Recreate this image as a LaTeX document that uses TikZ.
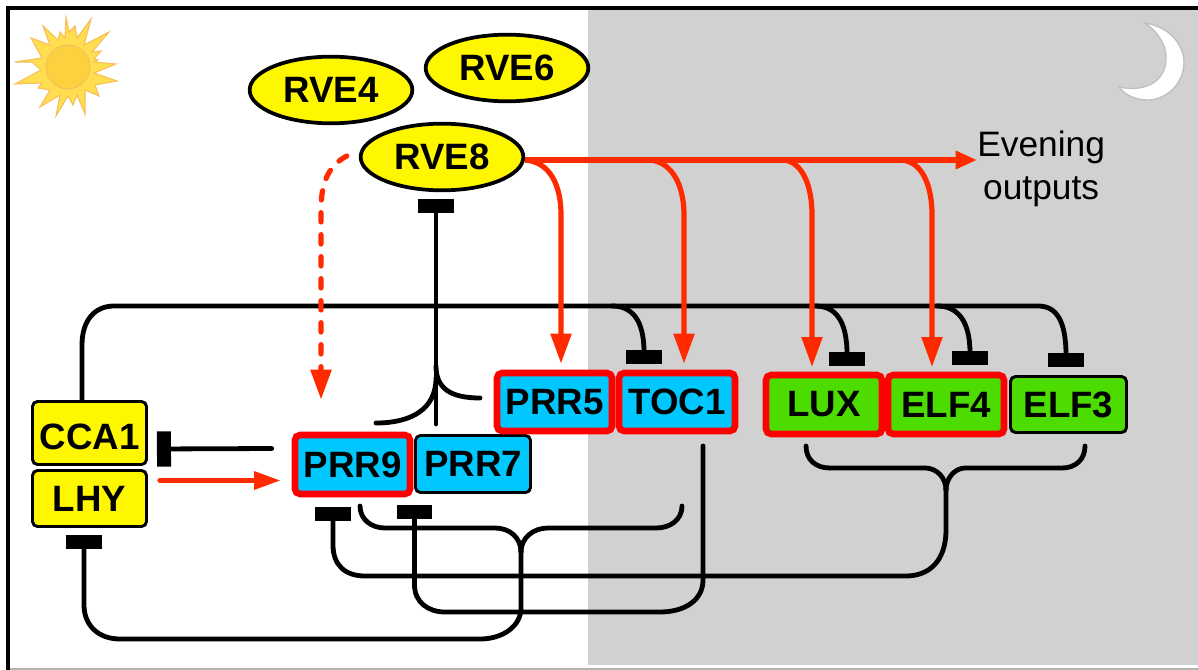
\documentclass[tikz,border=0pt]{standalone}
\usepackage{fontspec}
\setmainfont{Liberation Sans}
\usetikzlibrary{arrows.meta, positioning, calc, shapes.geometric}

\begin{document}
\begin{tikzpicture}[
    x=0.75pt, y=-0.75pt,
    every node/.style={font=\fontsize{26.5}{32}\selectfont},
    gene/.style={rectangle, rounded corners=3.75pt, draw=black, line width=2.2pt,
      inner sep=0pt, font=\fontsize{27.5}{32}\selectfont\bfseries},
    redgene/.style={gene, draw=geneRed, line width=4.9pt},
    rve/.style={ellipse, draw=black, fill=clockYellow, line width=2.8pt, inner sep=0pt,
      minimum width=122pt, minimum height=50pt, font=\fontsize{27.5}{32}\selectfont\bfseries},
    repress/.style={black, line width=3.6pt, line cap=round},
    bar/.style={repress, -{Rectangle[length=10.5pt, width=26.5pt]}},
    activate/.style={arrowRed, line width=3.9pt,
      -{Triangle[length=22.5pt, width=15pt]}},
  ]
  \definecolor{clockYellow}{HTML}{FFF700}
  \definecolor{prrBlue}{HTML}{00C8FF}
  \definecolor{eveGreen}{HTML}{4CDC00}
  \definecolor{geneRed}{HTML}{FF0000}
  \definecolor{arrowRed}{HTML}{FF2A00}
  \definecolor{night}{HTML}{D1D1D1}
  \definecolor{sunRay}{HTML}{FFDF50}
  \definecolor{sunEdge}{HTML}{F8BE58}
  \definecolor{sunCore}{HTML}{FBD140}

  \useasboundingbox (0,0) rectangle (1198,670);

  % day and night panels
  \fill[night] (588,10) rectangle (1198,665);
  \draw[black!30, line width=1.5pt] (8,668.5) -- (1198,668.5);
  \draw[black, line width=3pt] (8,670) -- (8,8) -- (1198,8);

  % sun and moon
  \draw[sunEdge, fill=sunRay, line width=0.8pt, line join=miter]
    (66,17) -- (69,32) -- (75,26) -- (77,38) -- (91,19) -- (84,45) -- (109,32) -- (92,52)
    -- (101,51) -- (94,59) -- (98,60) -- (94,62) -- (116,64) -- (94,73) -- (117,81) -- (95,85)
    -- (99,96) -- (85,90) -- (85,114) -- (77,95) -- (73,105) -- (68,96) -- (56,116) -- (60,95)
    -- (40,107) -- (50,90) -- (38,88) -- (42,83) -- (15,84) -- (41,70) -- (32,62) -- (15,62)
    -- (42,58) -- (31,38) -- (50,45) -- (43,26) -- (58,40) -- (60,32) -- (65,38) -- cycle;
  \draw[sunEdge, fill=sunCore, line width=0.8pt] (68,67) ellipse (22 and 22);
  \draw[black!25, fill=white, line width=1pt]
    (1145,23) .. controls (1175,28) and (1184,50) .. (1184,62)
    .. controls (1184,85) and (1165,100) .. (1148,100)
    .. controls (1135,100) and (1125,95) .. (1119,87)
    .. controls (1140,92) and (1166,85) .. (1166,58)
    .. controls (1166,42) and (1155,30) .. (1145,23) -- cycle;

  % genes
  \foreach \name/\lab/\cx/\cy in {rvefour/RVE4/331/90, rvesix/RVE6/507/68, rveeight/RVE8/442/157}{
    \node[rve] (\name) at (\cx,\cy) {\lab};
  }
  \foreach \name/\lab/\st/\col/\cx/\cy/\w/\h in {
    cca/\rule{0pt}{25pt}CCA1/gene/clockYellow/89.5/433/114/63,
    lhy/LHY/gene/clockYellow/89.5/498.5/114/56,
    prrnine/PRR9/redgene/prrBlue/352.5/464.5/115/59,
    prrseven/PRR7/gene/prrBlue/473/464/115/57,
    prrfive/PRR5/redgene/prrBlue/554.5/402/115/58,
    toc/TOC1/redgene/prrBlue/677/402/116/58,
    lux/LUX/redgene/eveGreen/824/404.5/116/59,
    elffour/ELF4/redgene/eveGreen/946/404.5/116/59,
    elfthree/ELF3/gene/eveGreen/1068.5/404.5/116/56%
  }{
    \node[\st, fill=\col, minimum width=\w*0.75pt, minimum height=\h*0.75pt]
      (\name) at (\cx,\cy) {\lab};
  }
  \node[inner sep=0pt, align=center, anchor=west] (outputs) at (977,169)
    {Evening\\outputs};

  % bars to the morning genes
  \coordinate (stem) at (436,424);
  \draw[bar] (stem) -- ($(rveeight.south)+(-6,7)$);
  \draw[repress] (376,423) .. controls (410,423) and (436,410) .. (436,378);
  \draw[repress] (480,398) .. controls (450,398) and (436,388) .. (436,366);
  \draw[bar] ($(prrnine.west)+(-20,-16)$) -- ($(cca.east)+(9,16)$);

  % evening complex and the long loop
  \draw[bar]
    (82,400) -- (82,345)
    .. controls (82,320) and (95,306) .. (114,306) -- (1038,306)
    .. controls (1056,306) and (1066,320) .. ($(elfthree.north)+(-2.5,-8)$);
  \draw[bar] (612,306) .. controls (632,306) and (644,320) .. ($(toc.north)+(-33,-6)$);
  \draw[bar] (815,306) .. controls (835,306) and (847,320) .. ($(lux.north)+(23,-6)$);
  \draw[bar] (937,306) .. controls (957,306) and (970,320) .. ($(elffour.north)+(24,-7)$);

  % brackets below the boxes
  \draw[repress] (360,506) .. controls (360,520) and (372,528) .. (385,528) -- (495,528)
    .. controls (510,528) and (521,538) .. (521,552);
  \draw[repress] (682,506) .. controls (682,520) and (670,528) .. (656,528) -- (548,528)
    .. controls (533,528) and (521,538) .. (521,552);
  \draw[bar] (521,550) -- (521,608) .. controls (521,626) and (503,639) .. (480,639)
    -- (120,639) .. controls (98,639) and (84,625) .. (84,605) -- ($(lhy.south)+(-5.5,7.5)$);
  \draw[repress] (806,446) .. controls (806,460) and (816,468) .. (830,468) -- (925,468)
    .. controls (937,468) and (946,478) .. (946,490);
  \draw[repress] (1085,446) .. controls (1085,460) and (1075,468) .. (1062,468) -- (965,468)
    .. controls (955,468) and (946,478) .. (946,490);
  \draw[bar] (946,488) -- (946,530) .. controls (946,560) and (930,576) .. (906,576)
    -- (365,576) .. controls (345,576) and (333,565) .. (333,545) -- ($(prrnine.south)+(-19.5,9.5)$);
  \draw[bar] (703,446) -- (703,580) .. controls (703,600) and (685,612) .. (660,612)
    -- (445,612) .. controls (428,612) and (414.5,602) .. (414.5,585) -- ($(prrseven.south)+(-58.5,11)$);

  % activation by RVE8
  \coordinate (redbus) at (525,160);
  \draw[activate, -{Triangle[length=16pt, width=13pt]}] (redbus) -- (outputs.west |- redbus);
  \draw[activate, shorten >=4.5pt] (redbus) .. controls (550,162) and (561,185) .. (561,215) -- (prrfive.north -| 561,0);
  \draw[activate, shorten >=4.5pt] (650,160) .. controls (672,162) and (684,185) .. (684,215) -- (toc.north -| 684,0);
  \draw[activate, shorten >=3.5pt] (784,160) .. controls (802,162) and (812,185) .. (812,215) -- (lux.north -| 812,0);
  \draw[activate, shorten >=3.5pt] (902,160) .. controls (922,162) and (932,185) .. (932,215) -- (elffour.north -| 932,0);
  \draw[activate, dash pattern=on 7pt off 9.5pt, line cap=round]
    ($(rveeight.west)+(-12,-1)$) .. controls (330,165) and (321,180) .. (321,210)
    -- ($(prrnine.north)+(-31.5,-32)$);
  \draw[activate, line cap=round, -{Triangle[length=20pt, width=13pt]}]
    ($(lhy.east)+(12,-18)$) -- ($(prrnine.west)+(-11,16)$);
\end{tikzpicture}
\end{document}
